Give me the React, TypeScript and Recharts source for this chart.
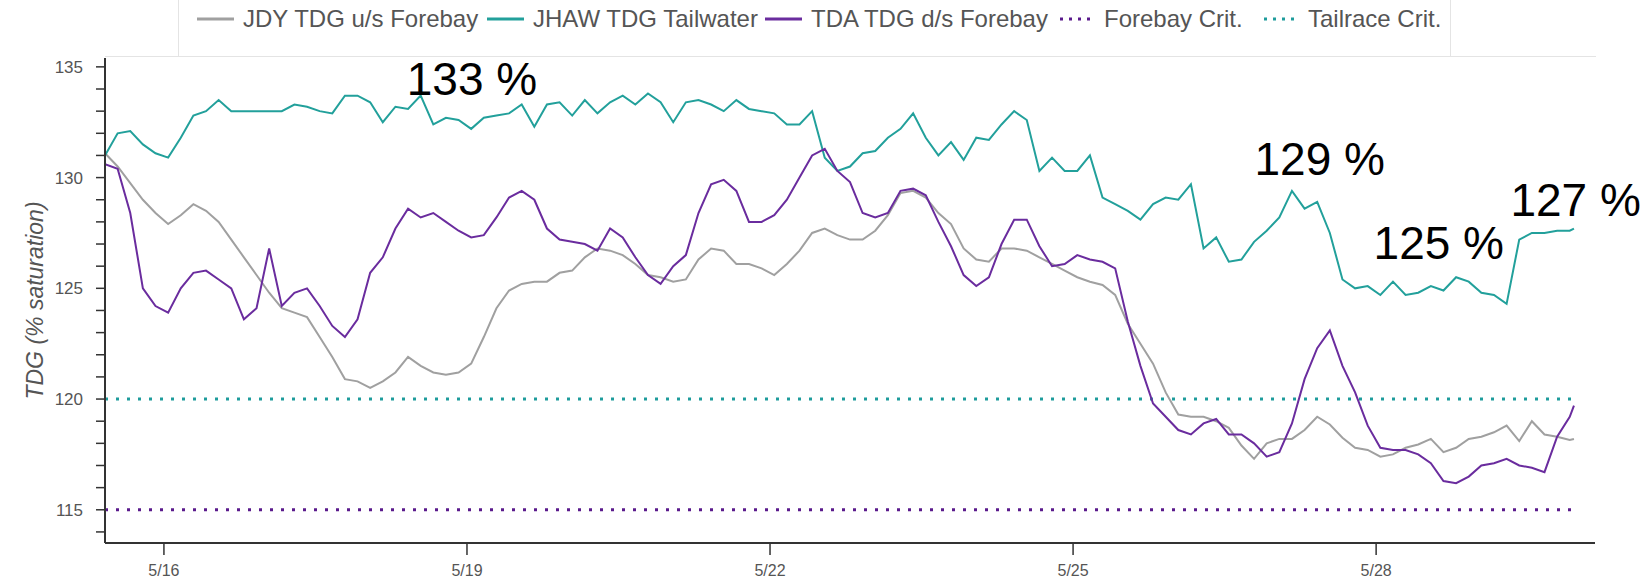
import React from 'react';
import { LineChart, Line, XAxis, YAxis, ReferenceLine, ReferenceDot } from 'recharts';

// hours since 5/15 00:00
const hours: number[] = [
  10, 13, 16, 19, 22, 25, 28, 31, 34, 37, 40, 43, 46, 49, 52, 55, 58, 61, 64, 67,
  70, 73, 76, 79, 82, 85, 88, 91, 94, 97, 100, 103, 106, 109, 112, 115, 118, 121, 124,
  127, 130, 133, 136, 139, 142, 145, 148, 151, 154, 157, 160, 163, 166, 169, 172, 175,
  178, 181, 184, 187, 190, 193, 196, 199, 202, 205, 208, 211, 214, 217, 220, 223, 226,
  229, 232, 235, 238, 241, 244, 247, 250, 253, 256, 259, 262, 265, 268, 271, 274, 277,
  280, 283, 286, 289, 292, 295, 298, 301, 304, 307, 310, 313, 316, 319, 322, 325, 328,
  331, 334, 337, 340, 343, 346, 349, 352, 355, 358, 359,
];

const jdyForebay: number[] = [
  131.1, 130.5, 129.75, 129.0, 128.4, 127.9, 128.3, 128.8, 128.5, 128.0,
  127.2, 126.4, 125.6, 124.8, 124.1, 123.9, 123.7, 122.8, 121.9, 120.9,
  120.8, 120.5, 120.8, 121.2, 121.9, 121.5, 121.2, 121.1, 121.2, 121.6,
  122.8, 124.1, 124.9, 125.2, 125.3, 125.3, 125.7, 125.8, 126.4,
  126.8, 126.7, 126.5, 126.1, 125.6, 125.5, 125.3, 125.4, 126.3, 126.8,
  126.7, 126.1, 126.1, 125.9, 125.6, 126.1, 126.7, 127.5, 127.7, 127.4,
  127.2, 127.2, 127.6, 128.3, 129.3, 129.4, 129.1, 128.4, 127.9, 126.8,
  126.3, 126.2, 126.8, 126.8, 126.7, 126.4, 126.1, 125.8, 125.5,
  125.3, 125.15, 124.7, 123.4, 122.5, 121.6, 120.3, 119.3, 119.2, 119.2,
  119.0, 118.7, 117.9, 117.3, 118.0, 118.2, 118.2, 118.6, 119.2, 118.85,
  118.25, 117.8, 117.7, 117.4, 117.5, 117.8, 117.95, 118.2, 117.6, 117.8,
  118.2, 118.3, 118.5, 118.8, 118.1, 119.0, 118.4, 118.3, 118.15, 118.2,
];

const jhawTailwater: number[] = [
  131.0, 132.0, 132.1, 131.5, 131.1, 130.9, 131.8, 132.8, 133.0, 133.5,
  133.0, 133.0, 133.0, 133.0, 133.0, 133.3, 133.2, 133.0, 132.9, 133.7,
  133.7, 133.4, 132.5, 133.2, 133.1, 133.7, 132.4, 132.7, 132.6, 132.2,
  132.7, 132.8, 132.9, 133.3, 132.3, 133.3, 133.4, 132.8, 133.5,
  132.9, 133.4, 133.7, 133.3, 133.8, 133.4, 132.5, 133.4, 133.5, 133.3,
  133.0, 133.5, 133.1, 133.0, 132.9, 132.4, 132.4, 133.0, 130.9, 130.3,
  130.5, 131.1, 131.2, 131.8, 132.2, 132.9, 131.8, 131.0, 131.6, 130.8,
  131.8, 131.7, 132.4, 133.0, 132.6, 130.3, 130.9, 130.3, 130.3,
  131.0, 129.1, 128.8, 128.5, 128.1, 128.8, 129.1, 129.0, 129.7, 126.8,
  127.3, 126.2, 126.3, 127.1, 127.6, 128.2, 129.4, 128.6, 128.9, 127.5,
  125.4, 125.0, 125.1, 124.7, 125.3, 124.7, 124.8, 125.1, 124.9, 125.5,
  125.3, 124.8, 124.7, 124.3, 127.2, 127.5, 127.5, 127.6, 127.6, 127.7,
];

const tdaForebay: number[] = [
  130.6, 130.4, 128.4, 125.0, 124.2, 123.9, 125.0, 125.7, 125.8, 125.4,
  125.0, 123.6, 124.1, 126.8, 124.2, 124.8, 125.0, 124.2, 123.3, 122.8,
  123.6, 125.7, 126.4, 127.7, 128.6, 128.2, 128.4, 128.0, 127.6, 127.3,
  127.4, 128.2, 129.1, 129.4, 129.0, 127.7, 127.2, 127.1, 127.0,
  126.7, 127.7, 127.3, 126.4, 125.6, 125.2, 126.0, 126.5, 128.4, 129.7,
  129.9, 129.4, 128.0, 128.0, 128.3, 129.0, 130.0, 131.0, 131.3, 130.3,
  129.8, 128.4, 128.2, 128.4, 129.4, 129.5, 129.2, 128.0, 126.9, 125.6,
  125.1, 125.5, 127.0, 128.1, 128.1, 126.9, 126.0, 126.1, 126.5,
  126.3, 126.2, 125.9, 123.5, 121.5, 119.8, 119.2, 118.6, 118.4, 118.9,
  119.1, 118.4, 118.4, 118.0, 117.4, 117.6, 118.9, 120.9, 122.3, 123.1,
  121.5, 120.3, 118.8, 117.8, 117.7, 117.7, 117.5, 117.1, 116.3, 116.2,
  116.5, 117.0, 117.1, 117.3, 117.0, 116.9, 116.7, 118.3, 119.2, 119.7,
];

const forebayCrit = 115;
const tailraceCrit = 120;

const xTickHours: number[] = [24, 96, 168, 240, 312];
const xTickLabels: string[] = ['5/16', '5/19', '5/22', '5/25', '5/28'];
const yTicks: number[] = [
  114, 115, 116, 117, 118, 119, 120, 121, 122, 123, 124, 125, 126, 127, 128, 129,
  130, 131, 132, 133, 134, 135,
];
const yLabelEvery = 5;

const annotations = [
  { h: 81.7, v: 133.72, text: '133 %' },
  { h: 283.1, v: 130.11, text: '129 %' },
  { h: 311.4, v: 126.32, text: '125 %' },
  { h: 343.9, v: 128.27, text: '127 %' },
];

const COLORS = {
  jdy: '#a0a0a0',
  jhaw: '#22a09b',
  tda: '#6a2c9e',
  fbCrit: '#5a1a8c',
  trCrit: '#1e9c9c',
};

const FONT = '"Liberation Sans", Arial, Helvetica, sans-serif';

const legendItems = [
  { label: 'JDY TDG u/s Forebay', color: COLORS.jdy, dotted: false, left: 197 },
  { label: 'JHAW TDG Tailwater', color: COLORS.jhaw, dotted: false, left: 487 },
  { label: 'TDA TDG d/s Forebay', color: COLORS.tda, dotted: false, left: 765 },
  { label: 'Forebay Crit.', color: COLORS.fbCrit, dotted: true, left: 1058 },
  { label: 'Tailrace Crit.', color: COLORS.trCrit, dotted: true, left: 1262 },
];

const data = hours.map((h, i) => ({
  h,
  jdy: jdyForebay[i],
  jhaw: jhawTailwater[i],
  tda: tdaForebay[i],
}));

export default function App() {
  const first = hours[0];
  const last = hours[hours.length - 1];
  return (
    <div style={{ position: 'absolute', left: 0, top: 0, width: 1650, height: 583, background: '#fff', overflow: 'hidden' }}>
      {/* legend frame */}
      <div style={{ position: 'absolute', left: 178, top: -2, width: 1273, height: 58, borderLeft: '1px solid #e4e4e4', borderRight: '1px solid #e4e4e4', boxSizing: 'border-box' }} />
      <div style={{ position: 'absolute', left: 105, top: 56, width: 1491, height: 0, borderTop: '1px solid #e4e4e4' }} />
      {legendItems.map((it) => (
        <div key={it.label} style={{ position: 'absolute', left: it.left, top: 0, height: 38, display: 'flex', alignItems: 'center', whiteSpace: 'nowrap' }}>
          <svg width={37} height={10} style={{ marginRight: 9 }}>
            {it.dotted ? (
              <line x1={2} y1={5} x2={37} y2={5} stroke={it.color} strokeWidth={3} strokeDasharray="3 6" />
            ) : (
              <line x1={0} y1={5} x2={37} y2={5} stroke={it.color} strokeWidth={3} />
            )}
          </svg>
          <span style={{ fontFamily: FONT, fontSize: 24, color: '#555' }}>{it.label}</span>
        </div>
      ))}
      <div style={{ position: 'absolute', left: 0, top: 0 }}>
        <LineChart width={1650} height={583} data={data} margin={{ top: 58, right: 55, bottom: 0, left: 0 }}>
          <XAxis
            type="number"
            dataKey="h"
            domain={[10, 364]}
            allowDataOverflow
            ticks={xTickHours}
            interval={0}
            tickFormatter={(v: number) => xTickLabels[xTickHours.indexOf(v)] ?? ''}
            height={40}
            tickSize={12}
            tickMargin={10}
            axisLine={{ stroke: '#333', strokeWidth: 2 }}
            tickLine={{ stroke: '#333', strokeWidth: 1.5 }}
            tick={{ fill: '#555', fontSize: 16, fontFamily: FONT }}
          />
          <YAxis
            type="number"
            domain={[113.5, 135.4]}
            allowDataOverflow
            ticks={yTicks}
            interval={0}
            tickFormatter={(v: number) => (v % yLabelEvery === 0 ? String(v) : '')}
            width={105}
            tickSize={9}
            tickMargin={13}
            axisLine={{ stroke: '#333', strokeWidth: 2 }}
            tickLine={{ stroke: '#333', strokeWidth: 1.5 }}
            tick={{ fill: '#555', fontSize: 17, fontFamily: FONT }}
            label={{
              content: (p: any) => {
                const vb = p.viewBox || { x: 0, y: 58, width: 105, height: 485 };
                const cx = vb.x + 35;
                const cy = vb.y + vb.height / 2;
                return (
                  <text
                    x={cx}
                    y={cy}
                    transform={`rotate(-90 ${cx} ${cy})`}
                    textAnchor="middle"
                    dominantBaseline="central"
                    fill="#555"
                    fontSize={23}
                    fontStyle="italic"
                    fontFamily={FONT}
                  >
                    TDG (% saturation)
                  </text>
                );
              },
            }}
          />
          <ReferenceLine
            segment={[{ x: first, y: forebayCrit }, { x: last, y: forebayCrit }]}
            stroke={COLORS.fbCrit}
            strokeWidth={3}
            strokeDasharray="3 8"
          />
          <ReferenceLine
            segment={[{ x: first, y: tailraceCrit }, { x: last, y: tailraceCrit }]}
            stroke={COLORS.trCrit}
            strokeWidth={3}
            strokeDasharray="3 8"
          />
          <Line type="linear" dataKey="jdy" stroke={COLORS.jdy} strokeWidth={2} dot={false} isAnimationActive={false} />
          <Line type="linear" dataKey="jhaw" stroke={COLORS.jhaw} strokeWidth={2} dot={false} isAnimationActive={false} />
          <Line type="linear" dataKey="tda" stroke={COLORS.tda} strokeWidth={2} dot={false} isAnimationActive={false} />
          {annotations.map((a) => (
            <ReferenceDot
              key={a.text}
              x={a.h}
              y={a.v}
              r={0}
              fill="none"
              stroke="none"
              label={{
                content: (p: any) => {
                  const vb = p.viewBox || { x: 0, y: 0, width: 0, height: 0 };
                  return (
                    <text x={vb.x + (vb.width || 0) / 2} y={vb.y + (vb.height || 0) / 2} fill="#000" fontSize={46} fontFamily={FONT} textAnchor="start">
                      {a.text}
                    </text>
                  );
                },
              }}
            />
          ))}
        </LineChart>
      </div>
    </div>
  );
}
